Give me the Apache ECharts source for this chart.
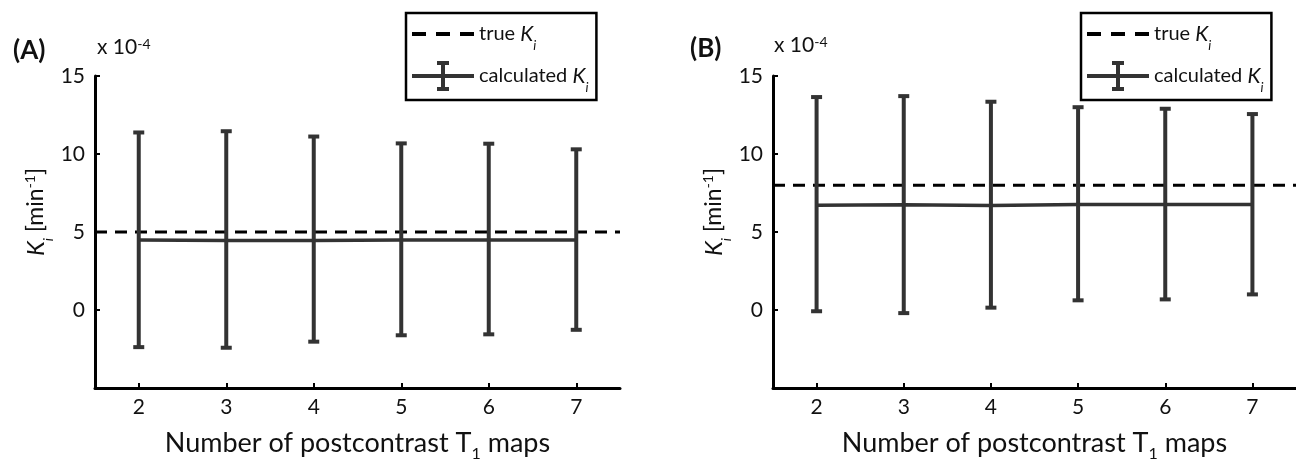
<!DOCTYPE html>
<html>
<head>
<meta charset="utf-8">
<script src="https://cdn.jsdelivr.net/npm/echarts@6/dist/echarts.min.js"></script>
<style>
html,body{margin:0;padding:0;background:#fff;}
#chart{width:1296px;height:467px;}
</style>
</head>
<body>
<div id="chart"></div>
<script>
// ---- data ----
const xValues = [2, 3, 4, 5, 6, 7];
const yTicks = [0, 5, 10, 15];
// Panel A
const meanA  = [4.49, 4.46, 4.45, 4.48, 4.49, 4.49];
const upperA = [11.38, 11.46, 11.12, 10.68, 10.66, 10.3];
const lowerA = [-2.38, -2.42, -2.03, -1.62, -1.56, -1.27];
const trueA = 5;
// Panel B
const meanB  = [6.72, 6.74, 6.70, 6.76, 6.76, 6.76];
const upperB = [13.65, 13.71, 13.35, 13.0, 12.9, 12.56];
const lowerB = [-0.08, -0.2, 0.15, 0.62, 0.68, 1.0];
const trueB = 8;
const panelLabels = ['(A)', '(B)'];

const FONT = 'Lato, "Open Sans", sans-serif';
const DARK = '#333333';
const TXT = '#111111';

const chart = echarts.init(document.getElementById('chart'), null, {renderer: 'canvas'});

const grids = [
  {left: 95, top: 76, width: 525, height: 323},
  {left: 773, top: 76, width: 525, height: 323}
];

function xAxisFor(i) {
  return {
    type: 'value', gridIndex: i, min: 1.5, max: 7.5,
    name: 'Number of postcontrast T{sub|1} maps',
    nameLocation: 'middle', nameGap: 40,
    nameTextStyle: {
      fontFamily: FONT, fontSize: 27, color: TXT, lineHeight: 30,
      rich: {sub: {fontFamily: FONT, fontSize: 16, color: TXT, verticalAlign: 'bottom', lineHeight: 30, padding: [0,0,-4,0]}}
    },
    axisLine: {show: true, onZero: false, lineStyle: {color: '#000', width: 3}},
    axisTick: {show: true, inside: true, length: 5, lineStyle: {color: '#000', width: 2}, customValues: xValues},
    axisLabel: {fontFamily: FONT, fontSize: 21, color: TXT, margin: 9, customValues: xValues},
    splitLine: {show: false}
  };
}
function yAxisFor(i) {
  return {
    type: 'value', gridIndex: i, min: -5, max: 15, interval: 5,
    name: '{k|K}{s|i} [min{p|-1}]',
    nameLocation: 'middle', nameGap: 46, nameRotate: 90,
    nameTextStyle: {
      fontFamily: FONT, fontSize: 23, color: TXT, lineHeight: 26, padding: [0, 0, 0, 40],
      rich: {
        k: {fontFamily: FONT, fontSize: 24, fontStyle: 'italic', color: TXT, lineHeight: 26},
        s: {fontFamily: FONT, fontSize: 14, fontStyle: 'italic', color: TXT, verticalAlign: 'bottom', lineHeight: 26, padding: [0,0,-6,0]},
        p: {fontFamily: FONT, fontSize: 14, color: TXT, verticalAlign: 'top', lineHeight: 26}
      }
    },
    axisLine: {show: true, onZero: false, lineStyle: {color: '#000', width: 3}},
    axisTick: {show: true, inside: true, length: 5, lineStyle: {color: '#000', width: 2}, customValues: yTicks},
    axisLabel: {fontFamily: FONT, fontSize: 21, color: TXT, margin: 10, customValues: yTicks},
    splitLine: {show: false}
  };
}

function errorRender(params, api) {
  const x = api.value(0);
  const lo = api.coord([x, api.value(1)]);
  const hi = api.coord([x, api.value(2)]);
  const hw = 5.5;
  const st = {stroke: DARK, lineWidth: 4};
  return {
    type: 'group',
    children: [
      {type: 'line', shape: {x1: lo[0], y1: lo[1], x2: hi[0], y2: hi[1]}, style: st},
      {type: 'line', shape: {x1: hi[0]-hw, y1: hi[1], x2: hi[0]+hw, y2: hi[1]}, style: st},
      {type: 'line', shape: {x1: lo[0]-hw, y1: lo[1], x2: lo[0]+hw, y2: lo[1]}, style: st}
    ]
  };
}

function seriesFor(i, mean, upper, lower, trueVal) {
  return [
    {
      name: 'true Ki', type: 'line', xAxisIndex: i, yAxisIndex: i,
      data: [[1.5, trueVal], [7.5, trueVal]],
      symbol: 'none', lineStyle: {color: '#000', width: 3, type: [12, 8]},
      itemStyle: {color: '#000'}, silent: true, z: 3
    },
    {
      name: 'calculated Ki', type: 'line', xAxisIndex: i, yAxisIndex: i,
      data: xValues.map((x, k) => [x, mean[k]]),
      symbol: 'none', lineStyle: {color: DARK, width: 3.5},
      itemStyle: {color: DARK}, z: 4
    },
    {
      name: 'calculated Ki', type: 'custom', xAxisIndex: i, yAxisIndex: i,
      renderItem: errorRender,
      data: xValues.map((x, k) => [x, lower[k], upper[k]]),
      itemStyle: {color: DARK}, z: 5
    }
  ];
}

const dashIcon = 'path://M0,0M0,13h14v4h-14zM24,13h14v4h-14zM48,13h14v4h-14zM62,30';
const barIcon = 'path://M0,13h62v4h-62zM29,2h4v26h-4zM25,0h12v4h-12zM25,26h12v4h-12z';

function legendFor(left) {
  return {
    orient: 'vertical', left: left, top: 13, width: 206,
    borderColor: '#000', borderWidth: 2.5, padding: [6, 8, 6, 6],
    itemGap: 9, itemWidth: 62, itemHeight: 30, selectedMode: false,
    data: [
      {name: 'true Ki', icon: dashIcon, itemStyle: {color: '#000'}},
      {name: 'calculated Ki', icon: barIcon, itemStyle: {color: DARK}}
    ],
    formatter: function (n) {
      return n === 'true Ki' ? 'true {k|K}{s|i}' : 'calculated {k|K}{s|i}';
    },
    textStyle: {
      fontFamily: FONT, fontSize: 20, color: TXT, lineHeight: 24,
      rich: {
        k: {fontFamily: FONT, fontSize: 21, fontStyle: 'italic', color: TXT, lineHeight: 24},
        s: {fontFamily: FONT, fontSize: 13, fontStyle: 'italic', color: TXT, verticalAlign: 'bottom', lineHeight: 24, padding: [0,0,-6,0]}
      }
    }
  };
}

const option = {
  backgroundColor: '#fff',
  animation: false,
  title: [
    {text: panelLabels[0], left: 8, top: 33, textStyle: {fontFamily: FONT, fontSize: 26, fontWeight: 'bold', color: TXT}},
    {text: panelLabels[1], left: 685, top: 31, textStyle: {fontFamily: FONT, fontSize: 26, fontWeight: 'bold', color: TXT}}
  ],
  graphic: [
    {type: 'text', left: 97, top: 37, style: {text: 'x 10{p|-4}', fontFamily: FONT, fontSize: 21, fill: TXT,
      rich: {p: {fontFamily: FONT, fontSize: 14, fill: TXT, verticalAlign: 'top'}}}},
    {type: 'text', left: 774, top: 35, style: {text: 'x 10{p|-4}', fontFamily: FONT, fontSize: 21, fill: TXT,
      rich: {p: {fontFamily: FONT, fontSize: 14, fill: TXT, verticalAlign: 'top'}}}}
  ],
  legend: [legendFor(406), legendFor(1081)],
  grid: grids,
  xAxis: [xAxisFor(0), xAxisFor(1)],
  yAxis: [yAxisFor(0), yAxisFor(1)],
  series: [].concat(
    seriesFor(0, meanA, upperA, lowerA, trueA),
    seriesFor(1, meanB, upperB, lowerB, trueB)
  )
};
chart.setOption(option);
</script>
</body>
</html>
